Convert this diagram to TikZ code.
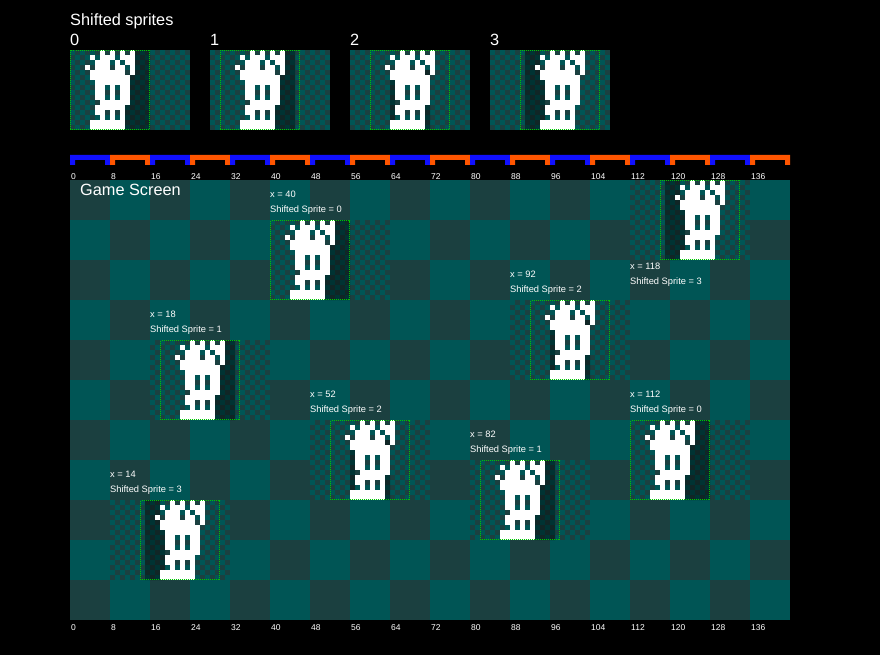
\documentclass[tikz,border=0pt]{standalone}
\usepackage{fontspec}
\setmainfont{Liberation Sans}

\definecolor{tealA}{RGB}{0,85,85}
\definecolor{tealB}{RGB}{27,64,64}
\definecolor{barblue}{RGB}{16,16,255}
\definecolor{barorange}{RGB}{255,85,0}
\definecolor{boxgreen}{RGB}{0,200,0}

\tikzset{
  lbl/.style={font=\fontsize{9.3}{10}\selectfont, text=white, inner sep=0pt, anchor=base west},
  ticklbl/.style={font=\fontsize{8.5}{9}\selectfont, text=white, inner sep=0pt, anchor=base west},
  heading/.style={font=\fontsize{16.3}{18}\selectfont, text=white, inner sep=0pt, anchor=base west},
  shade/.style={fill=black, fill opacity=0.4},
  spritebox/.style={draw=boxgreen, line width=1pt, dash pattern=on 1pt off 1pt},
}

% one 24x16 tile, sprite moved right by 2*#3 pixels
\newcommand{\spritetile}[3]{%
  \begin{scope}[shift={(#1,#2)}, scale=5]
    \pgfmathtruncatemacro\boff{2*#3}
    \fill[tealB] (0,0) rectangle (24,16);
    \foreach \i in {0,...,23}
      \foreach \j in {0,2,...,14}
        \fill[tealA] (\i,{\j+mod(\i,2)}) rectangle ++(1,1);
    \ifcase#3
      \fill[shade] (13,0) rectangle (16,5) (11,5) rectangle (16,16);
    \or
      \fill[shade] (14,0) rectangle (17,16) (13,11) rectangle (14,16);
    \or
      \fill[shade] (8,6) rectangle (9,16) (15,4) rectangle (16,16);
    \or
      \fill[shade] (7,0) rectangle (10,5) (7,5) rectangle (11,16);
    \fi
    \foreach \row/\cols in {0/{6,8,10,12}, 1/{4,6,7,8,10,11,12}, 2/{5,6,7,9,11,12},
        3/{3,5,6,7,9,10,12}, 4/{4,5,6,7,8,9,10,12}, 5/{4,5,6,7,8,9,10,11},
        6/{5,6,7,8,9,10,11}, 7/{5,6,8,10,11}, 8/{5,6,8,10,11}, 9/{5,6,8,10,11},
        10/{6,7,8,9,10,11}, 11/{5,6,7,8,9,10}, 12/{5,6,8,10}, 13/{6,8,10},
        14/{4,5,6,7,8,9,10}, 15/{4,5,6,7,8,9,10}}
      \foreach \c in \cols
        \fill[white] (\boff+\c,\row) rectangle ++(1,1);
    \draw[spritebox] (\boff+0.1,0.1) rectangle (\boff+15.9,15.9);
  \end{scope}}

\begin{document}
\begin{tikzpicture}[x=1pt, y=-1pt]
  \useasboundingbox (0,0) rectangle (880,655);
  \fill[black] (0,0) rectangle (880,655);

  % shifted sprites
  \node[heading] (title) at (70,26) {Shifted sprites};
  \foreach \s in {0,...,3} {
    \node[heading] (num\s) at (70+140*\s,46) {\s};
    \spritetile{70+140*\s}{50}{\s}
  }

  % ruler
  \foreach \k in {0,...,17} {
    \ifodd\k \def\barcol{barorange}\else\def\barcol{barblue}\fi
    \fill[\barcol] (70+40*\k,155) -- ++(40,0) -- ++(0,10) -- ++(-5,0) -- ++(0,-5)
      -- ++(-30,0) -- ++(0,5) -- ++(-5,0) -- cycle;
    \pgfmathtruncatemacro\val{8*\k}
    \node[ticklbl] (tick\k) at (71+40*\k,179) {\val};
    \node[ticklbl] (axis\k) at (71+40*\k,630) {\val};
  }

  % game screen
  \fill[tealB] (70,180) rectangle (790,620);
  \foreach \i in {0,...,17}
    \foreach \j in {0,...,10} {
      \ifodd\numexpr\i+\j\relax
        \fill[tealA] (70+40*\i,180+40*\j) rectangle ++(40,40);
      \fi
    }

  \foreach \gx/\gy/\pos in {40/8/a, 118/0/b, 92/24/a, 18/32/a, 52/48/a, 112/48/a, 82/56/a, 14/64/a} {
    \pgfmathtruncatemacro\tx{70+5*(\gx-mod(\gx,8))}
    \pgfmathtruncatemacro\ty{180+5*\gy}
    \pgfmathtruncatemacro\sh{mod(\gx,8)/2}
    \spritetile{\tx}{\ty}{\sh}
    \if a\pos
      \pgfmathtruncatemacro\la{\ty-23}\pgfmathtruncatemacro\lb{\ty-8}
    \else
      \pgfmathtruncatemacro\la{\ty+89}\pgfmathtruncatemacro\lb{\ty+104}
    \fi
    \node[lbl] (posx\gx) at (\tx,\la) {x = \gx};
    \node[lbl] (shift\gx) at (\tx,\lb) {Shifted Sprite = \sh};
  }

  \node[heading] (screen) at (80,196) {Game Screen};
\end{tikzpicture}
\end{document}
